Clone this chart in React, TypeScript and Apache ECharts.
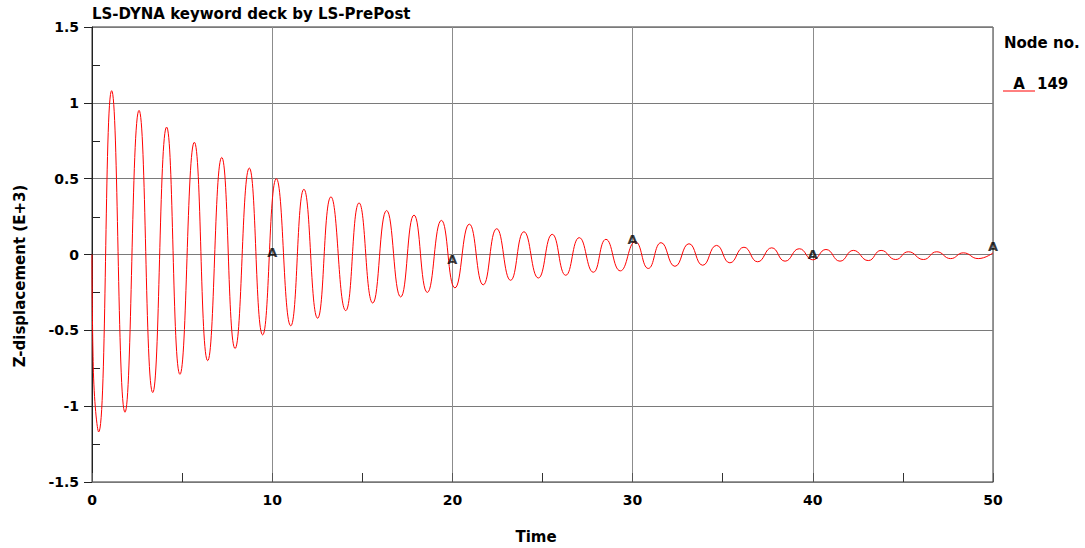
import React, { useEffect, useRef } from "react";
import * as echarts from "echarts";

const chartTitle = "LS-DYNA keyword deck by LS-PrePost";
const xName = "Time";
const yName = "Z-displacement (E+3)";
const legendTitle = "Node no.";
const nodeLetter = "A";
const nodeId = "149";

// Extrema (and start) of the curve
const times = [
  0, 0.07, 0.37, 1.09, 1.83, 2.61, 3.37, 4.14, 4.88, 5.68, 6.42, 7.2, 7.94, 8.73, 9.47,
  10.23, 11.03, 11.76, 12.52, 13.26, 14.08, 14.82, 15.58, 16.35, 17.13, 17.87, 18.61, 19.39,
  20.14, 20.94, 21.71, 22.46, 23.23, 23.97, 24.77, 25.54, 26.29, 27.04, 27.82, 28.52, 29.32,
  30.15, 30.87, 31.58, 32.35, 33.13, 33.89, 34.66, 35.4, 36.18, 36.94, 37.72, 38.46, 39.25,
  40.0, 40.73, 41.51, 42.25, 43.08, 43.79, 44.6, 45.3, 46.14, 46.88, 47.65, 48.35, 49.18, 50.0,
];
const zDisp = [
  0, -0.74, -1.17, 1.08, -1.04, 0.95, -0.91, 0.84, -0.79, 0.74, -0.7, 0.64, -0.62, 0.57, -0.53,
  0.5, -0.47, 0.43, -0.42, 0.38, -0.37, 0.34, -0.32, 0.29, -0.28, 0.26, -0.25, 0.225,
  -0.22, 0.2, -0.2, 0.17, -0.17, 0.15, -0.155, 0.133, -0.137, 0.111, -0.117, 0.1, -0.108,
  0.085, -0.092, 0.078, -0.078, 0.071, -0.071, 0.06, -0.055, 0.048, -0.048, 0.044, -0.044, 0.038,
  -0.035, 0.033, -0.044, 0.027, -0.04, 0.027, -0.033, 0.018, -0.033, 0.018, -0.027, 0.011, -0.027, 0.011,
];

// "A" curve labels
const markerTimes = [10, 20, 30, 40, 50];
const markerValues = [0.01, -0.03, 0.1, 0.0, 0.05];

// minor tick values of the y axis (drawn inward)
const yMinorTicks = [-1.25, -0.75, -0.25, 0.25, 0.75, 1.25];

const FONT = "DejaVu Sans";

export default function App() {
  const ref = useRef<HTMLDivElement>(null);
  useEffect(() => {
    if (!ref.current) return;
    const chart = echarts.init(ref.current, undefined, { renderer: "svg" });
    const bold = { fontFamily: FONT, fontWeight: "bold" as const, color: "#000" };
    chart.setOption({
      animation: false,
      backgroundColor: "#fff",
      title: {
        text: chartTitle,
        left: 92,
        top: 6,
        padding: 0,
        textStyle: { ...bold, fontSize: 15 },
      },
      grid: {
        left: 92,
        right: 92,
        top: 27,
        bottom: 66,
        show: true,
        borderColor: "#333",
        borderWidth: 1,
        backgroundColor: "transparent",
      },
      xAxis: {
        type: "value",
        min: 0,
        max: 50,
        interval: 10,
        axisLine: { show: true, onZero: false, lineStyle: { color: "#777", width: 1 } },
        axisTick: { show: true, inside: true, length: 9, lineStyle: { color: "#555" } },
        minorTick: { show: true, splitNumber: 2, length: 9, lineStyle: { color: "#333" } },
        splitLine: { show: true, lineStyle: { color: "#8c8c8c", width: 1 } },
        axisLabel: { ...bold, fontSize: 14, margin: 11 },
      },
      yAxis: {
        type: "value",
        position: "left",
        min: -1.5,
        max: 1.5,
        interval: 0.5,
        axisLine: { show: true, onZero: false, lineStyle: { color: "#222", width: 1 } },
        axisTick: { show: true, inside: false, length: 8, lineStyle: { color: "#222" } },
        splitLine: { show: true, lineStyle: { color: "#7a7a7a", width: 1 } },
        axisLabel: { ...bold, fontSize: 14, margin: 13 },
      },
      series: [
        {
          type: "custom",
          silent: true,
          clip: false,
          data: yMinorTicks.map((v) => [0, v]),
          renderItem: (params: any, api: any) => {
            const p = api.coord([api.value(0), api.value(1)]);
            const y = Math.round(p[1]) + 0.5;
            return {
              type: "line",
              shape: { x1: p[0], y1: y, x2: p[0] + 8, y2: y },
              style: { stroke: "#222", lineWidth: 1 },
            };
          },
          z: 2,
        },
        {
          type: "line",
          name: nodeId,
          data: times.map((t, i) => [t, zDisp[i]]),
          smooth: 0.5,
          symbol: "none",
          lineStyle: { color: "#ff0000", width: 1 },
          z: 3,
        },
        {
          type: "scatter",
          data: markerTimes.map((t, i) => [t, markerValues[i]]),
          symbolSize: 0,
          label: {
            show: true,
            position: "inside",
            formatter: nodeLetter,
            fontFamily: FONT,
            fontWeight: "bold",
            fontSize: 13,
            color: "#000",
          },
          z: 4,
        },
      ],
      graphic: [
        {
          type: "text",
          x: 536,
          y: 537,
          style: { text: xName, font: `bold 15px '${FONT}'`, fill: "#000", align: "center", verticalAlign: "middle" },
        },
        {
          type: "text",
          x: 19.5,
          y: 276,
          rotation: Math.PI / 2,
          style: { text: yName, font: `bold 15px '${FONT}'`, fill: "#000", align: "center", verticalAlign: "middle" },
        },
        {
          type: "text",
          x: 1004,
          y: 43,
          style: { text: legendTitle, font: `bold 15px '${FONT}'`, fill: "#000", align: "left", verticalAlign: "middle" },
        },
        {
          type: "line",
          shape: { x1: 1003, y1: 91, x2: 1035, y2: 91 },
          style: { stroke: "#ff0000", lineWidth: 1 },
        },
        {
          type: "text",
          x: 1019,
          y: 84,
          style: { text: nodeLetter, font: `bold 15px '${FONT}'`, fill: "#000", align: "center", verticalAlign: "middle" },
        },
        {
          type: "text",
          x: 1037,
          y: 84,
          style: { text: nodeId, font: `bold 15px '${FONT}'`, fill: "#000", align: "left", verticalAlign: "middle" },
        },
      ],
    });
    return () => chart.dispose();
  }, []);
  return (
    <div
      ref={ref}
      style={{ position: "absolute", left: 0, top: 0, width: 1085, height: 548 }}
    />
  );
}
